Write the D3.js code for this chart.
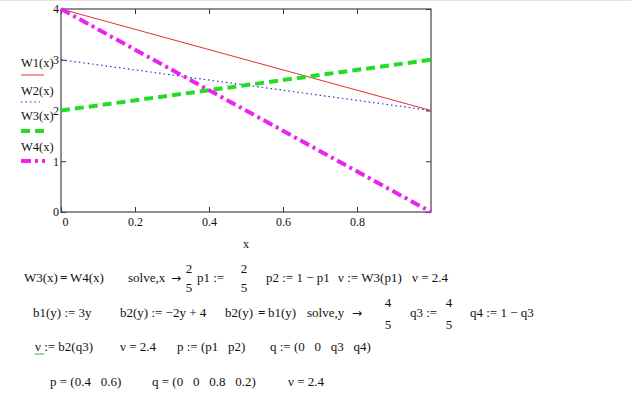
<!DOCTYPE html>
<html>
<head>
<meta charset="utf-8">
<title>W(x) plot</title>
<script src="https://d3js.org/d3.v7.min.js"></script>
<style>
    body { margin: 0; background: #fff; }
    svg text { font-family: 'Liberation Serif', 'Times New Roman', serif; fill: #111; white-space: pre; }
    .axis text { font-size: 12px; }
    .axis line { stroke: #333; }
    .axis path { display: none; }
    .frame { fill: none; stroke: #444; stroke-width: 1.2px; }
    .note { font-size: 13px; }
</style>
</head>
<body>
<svg id="chart" width="631" height="396"></svg>
<script>
    // chart values
    const xs = [0, 1];
    const W1 = [4, 2];
    const W2 = [3, 2];
    const W3 = [2, 3];
    const W4 = [4, 0];
    const seriesNames = ["W1(x)", "W2(x)", "W3(x)", "W4(x)"];
    const xTicks = [0, 0.2, 0.4, 0.6, 0.8];
    const yTicks = [0, 1, 2, 3, 4];

    const svg = d3.select("#chart");
    const plot = { left: 61, right: 431, top: 9, bottom: 212 };

    const x = d3.scaleLinear().domain([0, 1]).range([plot.left, plot.right]);
    const y = d3.scaleLinear().domain([0, 4]).range([plot.bottom, plot.top]);

    // faint border at very top of the sheet
    svg.append("line").attr("x1", 0).attr("x2", 631).attr("y1", 0.5).attr("y2", 0.5)
        .attr("stroke", "#e4e4e4");

    // ticks point inward on all four sides
    svg.append("g").attr("class", "axis")
        .attr("transform", "translate(0," + plot.bottom + ")")
        .call(d3.axisBottom(x).tickValues(xTicks).tickSize(-5).tickPadding(5)
            .tickFormat(d => d === 0 ? "0" : d3.format(".1f")(d)))
        .selectAll("text").filter(d => d === 0).attr("text-anchor", "start").attr("dx", 1);
    svg.append("g").attr("class", "axis")
        .attr("transform", "translate(0," + plot.top + ")")
        .call(d3.axisTop(x).tickValues(xTicks).tickSize(-5).tickFormat(""));
    svg.append("g").attr("class", "axis")
        .attr("transform", "translate(" + plot.left + ",0)")
        .call(d3.axisLeft(y).tickValues(yTicks).tickSize(-5).tickPadding(2).tickFormat(d3.format("d")));
    svg.append("g").attr("class", "axis")
        .attr("transform", "translate(" + plot.right + ",0)")
        .call(d3.axisRight(y).tickValues(yTicks).tickSize(-5).tickFormat(""));

    svg.append("rect").attr("class", "frame")
        .attr("x", plot.left).attr("y", plot.top)
        .attr("width", plot.right - plot.left).attr("height", plot.bottom - plot.top);

    svg.append("text").attr("x", x(0.5)).attr("y", 248)
        .attr("text-anchor", "middle").style("font-size", "12px").text("x");

    const styles = [
        { color: "#e3322b", width: 1, dash: null },
        { color: "#2a35c8", width: 1.2, dash: "1.5,3" },
        { color: "#22dd22", width: 4, dash: "9,5" },
        { color: "#ee22ee", width: 4, dash: "10,4,3,4" }
    ];
    const series = [W1, W2, W3, W4];

    const line = d3.line().x(d => x(d[0])).y(d => y(d[1]));
    series.forEach((vals, i) => {
        svg.append("path")
            .datum(xs.map((xv, j) => [xv, vals[j]]))
            .attr("d", line)
            .attr("fill", "none")
            .attr("stroke", styles[i].color)
            .attr("stroke-width", styles[i].width)
            .attr("stroke-dasharray", styles[i].dash);
    });

    // legend on the left
    const legendTop = [67, 95, 120, 151];
    const legendGap = [8, 7, 11, 10];
    const legendLen = [23, 19, 24, 24];
    seriesNames.forEach((name, i) => {
        svg.append("text").attr("x", 21).attr("y", legendTop[i])
            .style("font-size", "12.5px").text(name);
        svg.append("line")
            .attr("x1", 21).attr("x2", 21 + legendLen[i])
            .attr("y1", legendTop[i] + legendGap[i]).attr("y2", legendTop[i] + legendGap[i])
            .attr("stroke", styles[i].color)
            .attr("stroke-width", styles[i].width)
            .attr("stroke-dasharray", styles[i].dash);
    });

    // worked solution below the chart ("==" marks a bold symbolic equals, "->" the arrow)
    const notes = [
        { y: 282, num: -9, den: 10, parts: [
            [24, "W3(x)"], [60, "==", true], [70, "W4(x)"], [128, "solve,x"], [171, "->"],
            [189, ["2", "5"]], [197, "p1 :="], [244, ["2", "5"]],
            [266, "p2 := 1 − p1"], [338, "ν := W3(p1)"], [412, "ν = 2.4"] ] },
        { y: 317, num: -10, den: 12, parts: [
            [33, "b1(y) := 3y"], [120, "b2(y) := −2y + 4"], [225, "b2(y)"], [258, "==", true],
            [268, "b1(y)"], [307, "solve,y"], [352, "->"], [388, ["4", "5"]],
            [410, "q3 :="], [449, ["4", "5"]], [470, "q4 := 1 − q3"] ] },
        { y: 351, parts: [
            [35, "ν := b2(q3)"], [120, "ν = 2.4"], [177, "p := (p1   p2)"], [270, "q := (0   0   q3   q4)"] ] },
        { y: 386, parts: [
            [50, "p = (0.4   0.6)"], [152, "q = (0   0   0.8   0.2)"], [288, "ν = 2.4"] ] }
    ];

    notes.forEach(row => {
        row.parts.forEach(p => {
            if (Array.isArray(p[1])) {
                svg.append("text").attr("class", "note").attr("x", p[0]).attr("y", row.y + row.num)
                    .attr("text-anchor", "middle").text(p[1][0]);
                svg.append("text").attr("class", "note").attr("x", p[0]).attr("y", row.y + row.den)
                    .attr("text-anchor", "middle").text(p[1][1]);
            } else if (p[2]) {
                svg.append("text").attr("class", "note").attr("x", p[0]).attr("y", row.y)
                    .style("font-weight", "bold").text("=");
            } else if (p[1] === "->") {
                svg.append("text").attr("class", "note").attr("x", p[0]).attr("y", row.y)
                    .style("font-family", "'DejaVu Sans'").style("font-size", "12px").text("→");
            } else {
                svg.append("text").attr("class", "note").attr("x", p[0]).attr("y", row.y).text(p[1]);
            }
        });
    });

    // green squiggle under the nu of the third row
    const squig = d3.range(0, 10, 1.5).map((d, i) => [35 + d, 353 + (i % 2 ? 2 : 0)]);
    svg.append("path").attr("d", d3.line()(squig))
        .attr("fill", "none").attr("stroke", "#3a9a3a").attr("stroke-width", 0.8);
</script>
</body>
</html>
